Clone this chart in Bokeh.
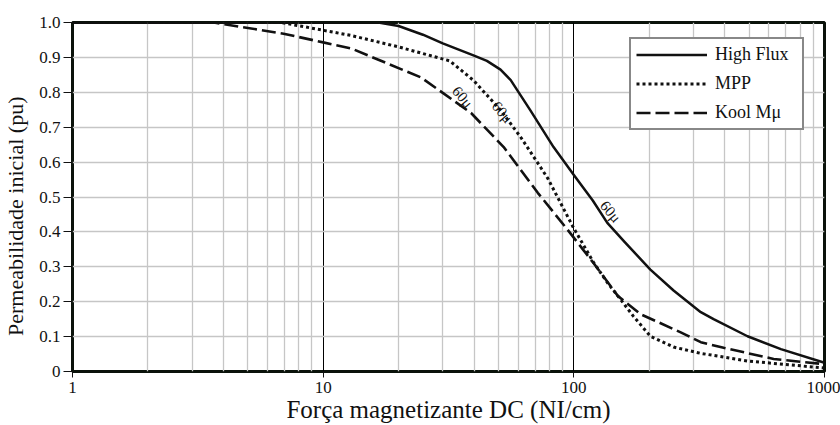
from bokeh.plotting import figure
from bokeh.models import FixedTicker, Legend, LegendItem
from bokeh.core.properties import value
from bokeh.embed import file_html
from bokeh.resources import INLINE

# ---- data ----
hf_h = [1, 16.6, 20, 25, 30, 40, 45, 51, 56, 67, 83, 100, 119, 136, 160, 202, 250, 321, 361, 493, 670, 1000]
hf_mu = [1.0, 1.0, 0.99, 0.965, 0.94, 0.905, 0.89, 0.865, 0.835, 0.749, 0.643, 0.563, 0.49, 0.426, 0.37, 0.292, 0.232, 0.170, 0.150, 0.101, 0.064, 0.025]

mpp_h = [1, 6.8, 8.1, 12.9, 20, 32, 39.8, 51, 61.3, 78.5, 100, 120, 136, 150, 173, 202, 250, 321, 494, 1000]
mpp_mu = [1.0, 1.0, 0.99, 0.963, 0.93, 0.89, 0.834, 0.749, 0.672, 0.555, 0.41, 0.312, 0.255, 0.216, 0.158, 0.101, 0.070, 0.052, 0.030, 0.010]

kool_h = [1, 3.66, 6.95, 10, 12.9, 16.9, 24.5, 30.2, 39, 52.5, 71.8, 94.5, 120, 150, 185, 267, 321, 396, 627, 1000]
kool_mu = [1.0, 1.0, 0.968, 0.943, 0.926, 0.891, 0.843, 0.797, 0.74, 0.643, 0.512, 0.406, 0.31, 0.216, 0.164, 0.112, 0.084, 0.068, 0.036, 0.021]

series_names = ["High Flux", "MPP", "Kool M\u03bc"]

x_ticks = [1, 10, 100, 1000]
x_tick_labels = ["1", "10", "100", "1000"]
x_minor = [2, 3, 4, 5, 6, 7, 8, 9, 20, 30, 40, 50, 60, 70, 80, 90,
           200, 300, 400, 500, 600, 700, 800, 900]
y_ticks = [0, 0.1, 0.2, 0.3, 0.4, 0.5, 0.6, 0.7, 0.8, 0.9, 1.0]
y_tick_labels = ["0", "0.1", "0.2", "0.3", "0.4", "0.5", "0.6", "0.7", "0.8", "0.9", "1.0"]

curve_labels = ["60\u03bc", "60\u03bc", "60\u03bc"]
curve_label_x = [36, 51.8, 140]
curve_label_y = [0.786, 0.743, 0.458]

FONT = "Liberation Serif"
INK = "#111111"

p = figure(width=840, height=425, x_axis_type="log", x_range=(1, 1000), y_range=(0, 1),
           output_backend="svg", toolbar_location=None,
           min_border_left=72, min_border_right=16, min_border_top=22, min_border_bottom=52,
           background_fill_color="white", border_fill_color="white")

p.outline_line_color = "#0a120a"
p.outline_line_width = 3

# axes
xa = p.xaxis[0]
xa.ticker = FixedTicker(ticks=x_ticks, minor_ticks=x_minor)
xa.major_label_overrides = {t: l for t, l in zip(x_ticks, x_tick_labels)}
xa.axis_line_color = None
xa.major_tick_out = 6
xa.major_tick_in = 0
xa.major_tick_line_color = INK
xa.minor_tick_line_color = None
xa.major_label_standoff = 4
xa.major_label_text_font = FONT
xa.major_label_text_font_size = "17px"
xa.major_label_text_color = INK
xa.axis_label = "For\u00e7a magnetizante DC (NI/cm)"
xa.axis_label_text_font = FONT
xa.axis_label_text_font_size = "25px"
xa.axis_label_text_font_style = "normal"
xa.axis_label_text_color = INK
xa.axis_label_standoff = 0

ya = p.yaxis[0]
ya.ticker = FixedTicker(ticks=y_ticks)
ya.major_label_overrides = {t: l for t, l in zip(y_ticks, y_tick_labels)}
ya.axis_line_color = None
ya.major_tick_out = 9
ya.major_tick_in = 0
ya.major_tick_line_color = INK
ya.minor_tick_line_color = None
ya.major_label_standoff = 3
ya.major_label_text_font = FONT
ya.major_label_text_font_size = "17px"
ya.major_label_text_color = INK
# trailing no-break spaces re-centre the rotated title along the axis
ya.axis_label = "Permeabilidade inicial (pu)" + "\u00a0" * 7
ya.axis_label_text_font = FONT
ya.axis_label_text_font_size = "22px"
ya.axis_label_text_font_style = "normal"
ya.axis_label_text_color = INK
ya.axis_label_standoff = 8

# grids
p.xgrid.grid_line_color = "black"
p.xgrid.grid_line_width = 1
p.xgrid.minor_grid_line_color = "#c6c6c6"
p.xgrid.minor_grid_line_width = 1.3
p.ygrid.grid_line_color = "#c6c6c6"
p.ygrid.grid_line_width = 1.3

# curves
r_hf = p.line(hf_h, hf_mu, line_color=INK, line_width=2.5, line_join="round")
r_mpp = p.line(mpp_h, mpp_mu, line_color=INK, line_width=3, line_dash="3 3")
r_kool = p.line(kool_h, kool_mu, line_color=INK, line_width=2.6, line_dash="14 5")

p.text(x=curve_label_x, y=curve_label_y, text=curve_labels, angle=-0.87,
       text_font=value(FONT), text_font_size="15px", text_color=INK,
       text_align="center", text_baseline="middle")

legend = Legend(items=[LegendItem(label=series_names[0], renderers=[r_hf]),
                       LegendItem(label=series_names[1], renderers=[r_mpp]),
                       LegendItem(label=series_names[2], renderers=[r_kool])],
                location=(557, 241), margin=0, padding=5, spacing=8,
                glyph_width=71, glyph_height=21, label_height=21, label_width=82,
                label_standoff=8,
                label_text_font=FONT, label_text_font_size="18px", label_text_color=INK,
                border_line_color=INK, border_line_width=2.5,
                background_fill_color="white", background_fill_alpha=1.0)
p.add_layout(legend)

open("out.html", "w").write(file_html(p, INLINE))
